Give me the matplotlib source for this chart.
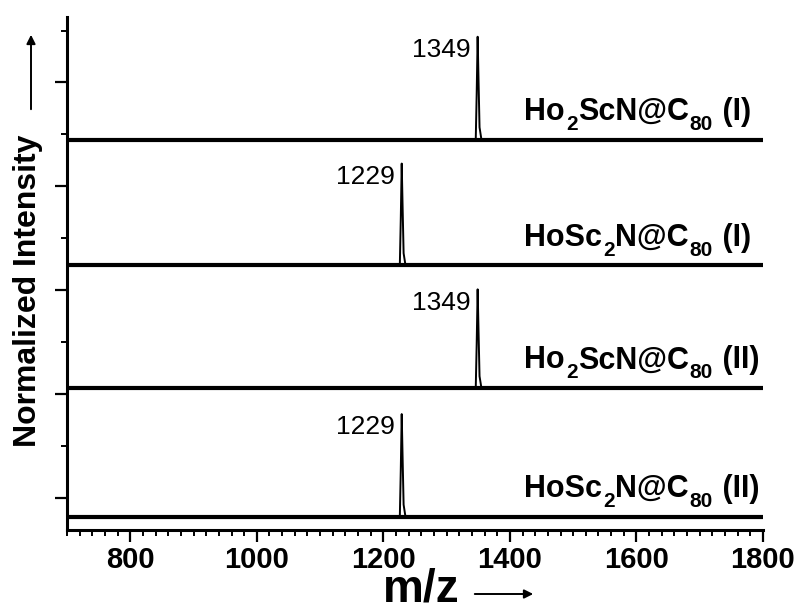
import numpy as np
import matplotlib
matplotlib.use('Agg')
import matplotlib.pyplot as plt
from matplotlib.patches import FancyArrowPatch
from matplotlib.ticker import MultipleLocator, FixedLocator

plt.rcParams['font.family'] = ['Liberation Sans', 'DejaVu Sans']

# spectra, bottom to top (m/z, normalized intensity)
# label pieces: (text, is_subscript)
labels = [
    [('HoSc', 0), ('2', 1), ('N@C', 0), ('80', 1), (' (II)', 0)],
    [('Ho', 0), ('2', 1), ('ScN@C', 0), ('80', 1), (' (II)', 0)],
    [('HoSc', 0), ('2', 1), ('N@C', 0), ('80', 1), (' (I)', 0)],
    [('Ho', 0), ('2', 1), ('ScN@C', 0), ('80', 1), (' (I)', 0)],
]
peaks = [1229, 1349, 1229, 1349]
offsets = [0.0, 1.24, 2.42, 3.63]
peak_height = [0.99, 0.95, 0.98, 0.99]
shape_dx = [-700, -3, -1.5, 0, 1.5, 3, 6, 700]
shape_y = [0, 0, 0.45, 1.0, 0.55, 0.12, 0, 0]


def formula(ax, x, y, pieces, size=22, subsize=15):
    # draws the text piece by piece so the subscripts can sit low
    first = ax.text(x, y, pieces[0][0], fontsize=size, fontweight='bold',
                    ha='left', va='baseline')
    last_main = first
    prev = first
    for txt, sub in pieces[1:]:
        if sub:
            prev = ax.annotate(txt, xy=(1, 0), xycoords=(prev, last_main),
                               xytext=(0.5, -5), textcoords='offset points',
                               fontsize=subsize, fontweight='bold', ha='left', va='bottom')
        else:
            prev = ax.annotate(txt, xy=(1, 0), xycoords=(prev, last_main),
                               xytext=(0.5, 0), textcoords='offset points',
                               fontsize=size, fontweight='bold', ha='left', va='bottom')
            last_main = prev


fig = plt.figure(figsize=(7.94, 6.12), dpi=100)
ax = fig.add_axes([67/794, 1 - 530/612, (763 - 67)/794, (530 - 17)/612])

for lab, pk, off, h in zip(labels, peaks, offsets, peak_height):
    mz = [pk + d for d in shape_dx]
    inten = [off + h * v for v in shape_y]
    ax.axhline(off, color='black', lw=3.0, zorder=2)
    ax.plot(mz, inten, color='black', lw=1.4, zorder=3)
    ax.annotate(str(pk), xy=(pk, off + h), xytext=(-5, -1), textcoords='offset points',
                ha='right', va='top', fontsize=19)
    formula(ax, 1423, off + 0.19, lab)

ax.set_xlim(700, 1800)
ax.set_ylim(-0.125, 4.81)

for s in ['top', 'right']:
    ax.spines[s].set_visible(False)
for s in ['left', 'bottom']:
    ax.spines[s].set_linewidth(2.2)

ax.xaxis.set_major_locator(MultipleLocator(200))
ax.xaxis.set_minor_locator(MultipleLocator(20))
ax.yaxis.set_major_locator(FixedLocator([0.18, 1.18, 2.18, 3.18, 4.18]))
ax.yaxis.set_minor_locator(FixedLocator([0.68, 1.68, 2.68, 3.68, 4.68]))
ax.tick_params(axis='both', which='major', direction='out', length=8.5, width=1.6)
ax.tick_params(axis='both', which='minor', direction='out', length=4, width=1.4)
ax.tick_params(axis='x', which='major', labelsize=21, pad=3)
ax.tick_params(axis='y', which='both', labelleft=False)
for t in ax.get_xticklabels():
    t.set_fontweight('bold')

# axis titles with arrows
fig.text(28/794, 1 - 291/612, 'Normalized Intensity', rotation=90, fontsize=23,
         fontweight='bold', ha='center', va='center')
fig.add_artist(FancyArrowPatch((31/794, 1 - 112/612), (31/794, 1 - 32/612),
               transform=fig.transFigure, arrowstyle='-|>', mutation_scale=13,
               lw=1.4, color='black'))
fig.text(421/794, 1 - 601/612, 'm/z', fontsize=33, fontweight='bold',
         ha='center', va='baseline')
fig.add_artist(FancyArrowPatch((472/794, 1 - 594/612), (536/794, 1 - 594/612),
               transform=fig.transFigure, arrowstyle='-|>', mutation_scale=13,
               lw=1.4, color='black'))

fig.savefig('out.png', dpi=100)
